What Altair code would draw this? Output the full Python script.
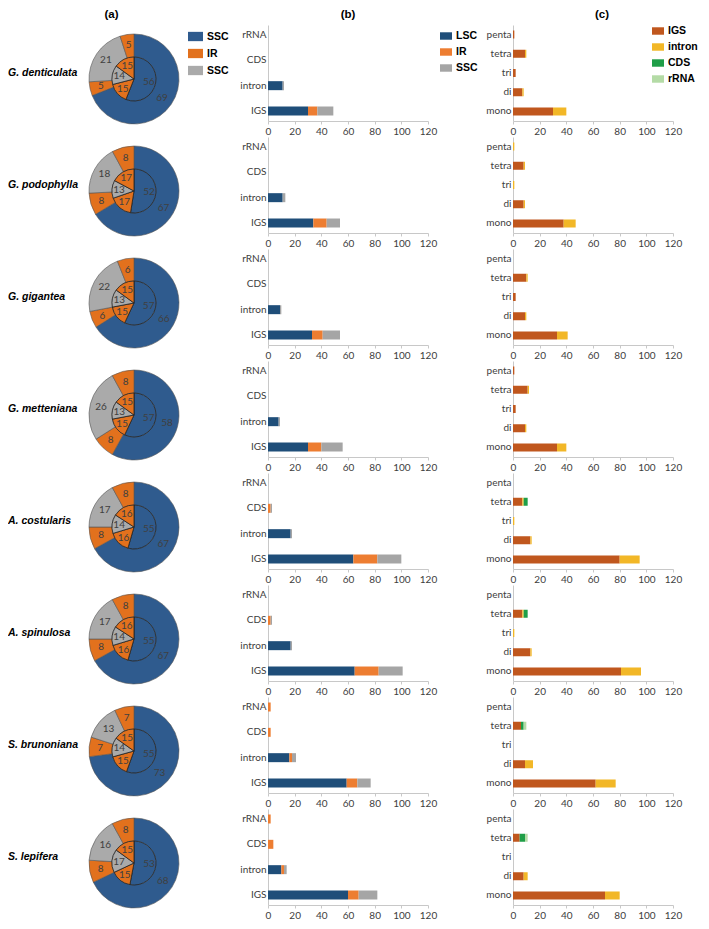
import altair as alt
import pandas as pd

# ---------------- data ----------------
species = ["G. denticulata", "G. podophylla", "G. gigantea", "G. metteniana",
           "A. costularis", "A. spinulosa", "S. brunoniana", "S. lepifera"]

# (a) pies: order LSC, IR, SSC, IR (clockwise from 12 o'clock)
pie_segments = ["LSC", "IR", "SSC", "IR"]
pie_outer = [[69, 5, 21, 5], [67, 8, 18, 8], [66, 6, 22, 6], [58, 8, 26, 8],
             [67, 8, 17, 8], [67, 8, 17, 8], [73, 7, 13, 7], [68, 8, 16, 8]]
pie_inner = [[56, 15, 14, 15], [52, 17, 13, 17], [57, 15, 13, 15], [57, 15, 13, 15],
             [55, 16, 14, 16], [55, 16, 14, 16], [55, 15, 14, 15], [53, 15, 17, 15]]
pie_domain = ["LSC", "IR", "SSC"]
pie_colors = ["#2f5b8e", "#e2711d", "#aaaaaa"]

# (b) categories top->bottom, values per species
b_categories = ["rRNA", "CDS", "intron", "IGS"]
b_segments = ["LSC", "IR", "SSC"]
b_LSC = [[0, 0, 11, 30], [0, 0, 11, 34], [0, 0, 9, 33], [0, 0, 8, 30],
         [0, 0, 17, 64], [0, 0, 17, 65], [0, 0, 16, 59], [0, 0, 10, 60]]
b_IR = [[0, 0, 0, 7], [0, 0, 0, 10], [0, 0, 0, 8], [0, 0, 0, 10],
        [0, 2, 0, 18], [0, 2, 0, 18], [2, 2, 2, 8], [2, 4, 2, 8]]
b_SSC = [[0, 0, 1, 12], [0, 0, 2, 10], [0, 0, 1, 13], [0, 0, 1, 16],
         [0, 1, 1, 18], [0, 1, 1, 18], [0, 0, 3, 10], [0, 0, 2, 14]]
b_colors = ["#1f4e79", "#ed7d31", "#a5a5a5"]

# (c) categories top->bottom
c_categories = ["penta", "tetra", "tri", "di", "mono"]
c_segments = ["IGS", "intron", "CDS", "rRNA"]
c_IGS = [[1, 9, 2, 7, 30], [0, 8, 0, 8, 38], [0, 10, 2, 9, 33], [1, 11, 2, 9, 33],
         [0, 7, 0, 13, 80], [0, 7, 0, 13, 81], [0, 6, 0, 9, 62], [0, 5, 0, 8, 69]]
c_intron = [[0, 1, 0, 1, 10], [1, 1, 1, 1, 9], [0, 1, 0, 1, 8], [0, 1, 0, 1, 7],
            [0, 1, 1, 1, 15], [0, 1, 1, 1, 15], [0, 0, 0, 6, 15], [0, 0, 0, 3, 11]]
c_CDS = [[0, 0, 0, 0, 0], [0, 0, 0, 0, 0], [0, 0, 0, 0, 0], [0, 0, 0, 0, 0],
         [0, 3, 0, 0, 0], [0, 3, 0, 0, 0], [0, 2, 0, 0, 0], [0, 4, 0, 0, 0]]
c_rRNA = [[0, 0, 0, 0, 0], [0, 0, 0, 0, 0], [0, 0, 0, 0, 0], [0, 0, 0, 0, 0],
          [0, 0, 0, 0, 0], [0, 0, 0, 0, 0], [0, 2, 0, 0, 0], [0, 2, 0, 0, 0]]
c_colors = ["#c0571e", "#f2b727", "#1f9e48", "#b4dba6"]

x_ticks = [0, 20, 40, 60, 80, 100, 120]
panel_titles = ["(a)", "(b)", "(c)"]

# ---------------- layout / style ----------------
CELL_H = 96
PIE_W = 175
BAR_W = 160
PIE_CX, PIE_CY = 126, 54
R_OUT, R_IN = 45, 22
LABEL_FONT = "Lato"
TXT = "#404040"
AXIS_COL = "#c8c8c8"
RECT = "M-1,-0.62H1V0.62H-1Z"


def title_params(text, dx):
    return alt.TitleParams(text, font="Liberation Sans", fontSize=11.5, fontWeight="bold",
                           color="black", anchor="middle", frame="group", dx=dx,
                           offset=-6, baseline="bottom")


def legend_params(x, y, size, rowpad, expr=None):
    kw = dict(title=None, orient="none", legendX=x, legendY=y, direction="vertical",
              symbolType=RECT, symbolSize=size, symbolStrokeWidth=0, padding=0,
              labelFont="Liberation Sans", labelFontWeight="bold", labelFontSize=10.5,
              labelColor="black", rowPadding=rowpad, labelOffset=4)
    if expr:
        kw["labelExpr"] = expr
    return alt.Legend(**kw)


def pie_cell(i):
    rows = []
    for ring, vals in (("outer", pie_outer[i]), ("inner", pie_inner[i])):
        for k, v in enumerate(vals):
            rows.append({"ring": ring, "k": k, "seg": pie_segments[k], "value": v})
    df = pd.DataFrame(rows)
    leg = legend_params(180, 4, 225, 4, "datum.label == 'LSC' ? 'SSC' : datum.label") if i == 0 else None
    color = alt.Color("seg:N", scale=alt.Scale(domain=pie_domain, range=pie_colors), legend=leg)
    theta = alt.Theta("value:Q", stack=True)
    order = alt.Order("k:Q")
    pos = dict(x=alt.value(PIE_CX), y=alt.value(PIE_CY))

    def ring_layers(ring, r1, r2, rt, stroke, sw):
        b = alt.Chart(df).transform_filter(f"datum.ring == '{ring}'")
        arc = b.mark_arc(radius=r1, radius2=r2, stroke=stroke, strokeWidth=sw).encode(
            theta=theta, order=order, color=color, **pos)
        txt = b.mark_text(radius=rt, font=LABEL_FONT, fontSize=10, color=TXT).encode(
            theta=theta, order=order, text="value:Q", **pos)
        return alt.layer(arc, txt)

    outer = ring_layers("outer", R_OUT, R_IN, 34, "#555555", 0.6)
    inner = ring_layers("inner", R_IN, 0, 15, "#222222", 0.8)
    name = alt.Chart(pd.DataFrame({"name": [species[i]]})).mark_text(
        font="Liberation Sans", fontSize=10.5, fontWeight="bold", fontStyle="italic",
        color="black", align="left", baseline="middle").encode(
        text="name:N", x=alt.value(0), y=alt.value(PIE_CY - 6))
    ch = alt.layer(outer, inner, name).resolve_scale(theta="independent").properties(
        width=PIE_W, height=CELL_H)
    if i == 0:
        ch = ch.properties(title=title_params(panel_titles[0], 16))
    return ch


def x_axis():
    return alt.Axis(values=x_ticks, title=None, grid=False, domainColor=AXIS_COL,
                    tickColor=AXIS_COL, tickSize=3, labelColor=TXT, labelFont=LABEL_FONT,
                    labelFontSize=10, labelFlush=False, labelPadding=2)


def y_axis():
    return alt.Axis(title=None, ticks=False, domainColor=AXIS_COL, labelColor=TXT,
                    labelFont=LABEL_FONT, labelFontSize=10, labelPadding=2)


def bar_cell(i, cats, segs, arrays, colors, pinner, pouter, leg, title=None):
    rows = []
    for k, (seg, arr) in enumerate(zip(segs, arrays)):
        for j, cat in enumerate(cats):
            v = arr[i][j]
            if v > 0:
                rows.append({"cat": cat, "seg": seg, "k": k, "value": v})
    df = pd.DataFrame(rows)
    ch = alt.Chart(df).mark_bar().encode(
        x=alt.X("value:Q", stack="zero", scale=alt.Scale(domain=[0, 120], nice=False), axis=x_axis()),
        y=alt.Y("cat:N", scale=alt.Scale(domain=cats, paddingInner=pinner, paddingOuter=pouter),
                axis=y_axis()),
        color=alt.Color("seg:N", scale=alt.Scale(domain=segs, range=colors), legend=leg),
        order=alt.Order("k:Q"),
    ).properties(width=BAR_W, height=CELL_H)
    if title is not None:
        ch = ch.properties(title=title)
    return ch


cells = []
for i in range(len(species)):
    cells.append(pie_cell(i))
    cells.append(bar_cell(i, b_categories, b_segments, [b_LSC, b_IR, b_SSC], b_colors,
                          0.645, 0.217,
                          legend_params(172, 5, 144, 4) if i == 0 else None,
                          title_params(panel_titles[1], 0) if i == 0 else None))
    cells.append(bar_cell(i, c_categories, c_segments, [c_IGS, c_intron, c_CDS, c_rRNA], c_colors,
                          0.584, 0.286,
                          legend_params(139, 0, 144, 4) if i == 0 else None,
                          title_params(panel_titles[2], 9) if i == 0 else None))

chart = alt.concat(*cells, columns=3, spacing={"row": 16, "column": 85}, bounds="flush").resolve_scale(
    color="independent", x="independent", y="independent", theta="independent"
).properties(padding=0).configure(font=LABEL_FONT).configure_view(
    stroke="transparent", strokeWidth=0)

chart.save("out.html", embed_options={"renderer": "svg", "actions": False})
